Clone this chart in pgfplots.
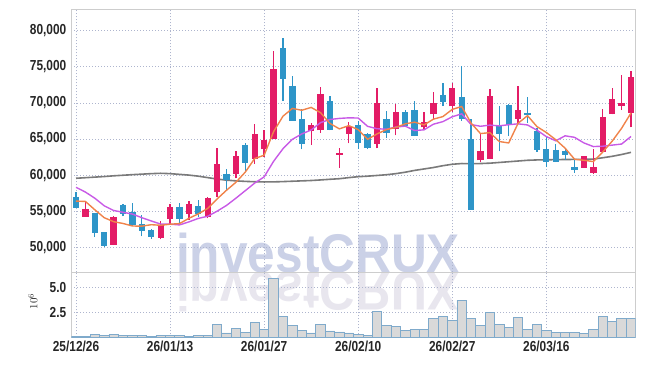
\documentclass[border=0pt]{standalone}
\usepackage{pgfplots}
\pgfplotsset{compat=1.18}
\usepackage{pgfplotstable}
\usepackage{fontspec}
\setmainfont{Liberation Sans}[FakeStretch=0.82]
\newfontfamily\wmfont{Liberation Sans}[FakeStretch=0.91]
\definecolor{upc}{HTML}{E31C66}
\definecolor{dnc}{HTML}{2E95C8}
\definecolor{ma5}{HTML}{F0834A}
\definecolor{ma10}{HTML}{C85AE6}
\definecolor{ma60}{HTML}{7A7A7A}
\definecolor{gridc}{HTML}{AEB5CE}
\definecolor{framec}{HTML}{CDCDCD}
\definecolor{tickc}{HTML}{262626}
\definecolor{volfill}{HTML}{D9D9D9}
\definecolor{voledge}{HTML}{7FAACB}
\definecolor{wmc}{HTML}{CBD1E7}
\definecolor{wmr}{HTML}{E8E6EE}

\pgfplotstableread{
x O H L C
0 57000 57600 55500 55500
2 54700 54800 51400 52000
3 52100 52150 50100 50200
5 55900 56000 54300 54600
6 54900 56100 52900 53100
7 53200 54500 51500 52300
8 52400 52550 51200 51450
11 55600 56200 53400 53900
13 55700 56600 54200 54600
16 60200 60900 57800 59300
18 64200 64500 60400 61700
22 77550 78950 70250 73300
23 72350 73700 67500 67500
24 67750 69200 63550 64350
27 70250 70900 66200 66250
30 66950 67500 63650 64500
31 65650 65800 63600 63700
33 67750 68900 65200 65800
35 68700 69000 66700 66850
36 69000 70250 65400 65400
39 71100 72700 69550 70150
41 70750 75150 67500 67800
42 65000 67750 55200 55200
45 66950 69550 63300 65700
46 69700 69800 65400 66900
48 68550 70750 67200 68350
49 66100 66500 63250 63500
50 63550 65250 61150 61850
51 63500 64300 61800 61850
52 63350 63550 62100 62800
53 61100 62150 60350 60700
}\dn

\pgfplotstableread{
x O H L C
1 54250 56300 54250 55300
4 50350 54300 50300 54200
9 51300 53600 51100 53100
10 53900 56000 53100 55600
12 54650 56400 53800 55950
14 54250 57000 54000 56800
15 57700 63800 56900 61600
17 60100 63350 59550 62650
19 62200 67050 61600 65700
20 63550 66300 62500 64900
21 65000 77200 65000 74700
25 66150 67200 64150 66950
26 66200 72150 65800 71200
28 62830 63700 61000 63080
29 65750 67300 64400 66850
32 64350 72000 63700 70000
34 66350 69900 65500 68700
37 66600 68700 66350 67350
38 68400 71500 67800 70050
40 69500 72700 68800 72000
43 62050 65700 61850 63350
44 62250 71900 62200 70950
47 67800 72400 67150 69000
54 61000 62600 61000 62600
55 60350 63650 60150 61100
56 63150 69100 63100 68000
57 68450 72000 68400 70500
58 69600 73900 69000 69950
59 68650 74450 66600 73550
}\up

\pgfplotstableread{
x ma5 ma10 ma60 v
0 56400 58310 59560 0.1
1 56350 57650 59640 0.1
2 55200 56800 59720 0.3
3 54100 55750 59800 0.2
4 53550 55100 59900 0.3
5 53300 54850 59980 0.2
6 52950 54600 60060 0.2
7 52930 54100 60130 0.2
8 53130 53650 60200 0.1
9 53050 53220 60250 0.2
10 53200 53200 60200 0.2
11 53280 53100 60100 0.2
12 54010 53520 60000 0.1
13 54630 54000 59850 0.2
14 55380 54300 59650 0.2
15 56700 55000 59450 1.3
16 57900 55800 59300 0.43
17 59000 56800 59200 0.9
18 60420 57850 59130 0.5
19 62300 58900 59080 1.5
20 62750 59750 59050 0.8
21 66000 61900 59060 5.9
22 68150 63650 59100 2.1
23 69230 64950 59150 1.2
24 68980 65700 59200 0.7
25 69370 66250 59250 0.43
26 68640 67270 59330 1.3
27 67150 67700 59420 0.63
28 66400 67850 59500 0.53
29 66850 67930 59650 0.43
30 66300 67900 59780 0.3
31 64950 66750 59850 0.2
32 65700 66420 59950 2.6
33 66300 66350 60050 1.2
34 66600 66650 60200 1.1
35 67100 66780 60400 0.7
36 67330 66170 60650 0.8
37 66950 66270 60850 0.8
38 67750 67050 61050 1.9
39 68100 67400 61300 2.1
40 69100 68080 61500 1.7
41 69500 68480 61600 3.7
42 67200 67000 61580 1.9
43 65750 66760 61600 1.2
44 65880 66920 61650 2.5
45 64650 66820 61750 1.3
46 64450 66980 61850 1.0
47 67180 67100 61950 2.0
48 68230 66940 62050 0.8
49 66720 66220 62100 1.3
50 65900 65330 62120 0.7
51 64900 64750 62140 0.5
52 63720 65440 62160 0.5
53 62200 65230 62170 0.5
54 62050 64450 62180 0.4
55 61870 63950 62220 0.8
56 63200 64000 62400 2.1
57 64700 64150 62600 1.6
58 66480 64300 62850 1.9
59 68600 65350 63150 1.9
}\lines

\pgfplotsset{
  chartbase/.style={
    scale only axis, width=564.4pt, anchor=south west,
    xmin=-0.5, xmax=59.5,
    xtick={0,10,20,30,40,50},
    grid=major,
    major grid style={draw=gridc, line width=0.7pt, dash pattern=on 1pt off 2pt},
    axis line style={draw=framec, line width=0.8pt},
    major tick length=0pt,
    tick style={draw=none},
    ticklabel style={font=\bfseries\fontsize{14.5}{15}\selectfont, text=tickc},
    yticklabel style={xshift=-1.5pt},
    /pgf/number format/assume math mode=true,
  }
}

\begin{document}
\begin{tikzpicture}
\useasboundingbox (0,0) rectangle (645pt,366pt);
\node[anchor=base west, inner sep=0pt, text=wmr, yscale=-1,
  font=\wmfont\bfseries\fontsize{54.5}{54.5}\selectfont] at (176pt,93.7pt) {investCRUX};
\node[anchor=base west, inner sep=0pt, text=wmc,
  font=\wmfont\bfseries\fontsize{54.5}{54.5}\selectfont] at (176pt,93.7pt) {investCRUX};

\begin{axis}[chartbase,
  at={(71.3pt,93.7pt)}, height=263pt,
  ymin=46540, ymax=82960,
  ytick={50000,55000,60000,65000,70000,75000,80000},
  xticklabels={},
  /pgf/number format/fixed,
  /pgf/number format/1000 sep={,},
  scaled y ticks=false,
]
\addplot[ma60, line width=1.6pt] table[x=x, y=ma60] {\lines};
\addplot[dnc, line width=1.3pt, quiver={u=0, v=\thisrow{H}-\thisrow{L}}] table[x=x, y=L] {\dn};
\addplot[upc, line width=1.3pt, quiver={u=0, v=\thisrow{H}-\thisrow{L}}] table[x=x, y=L] {\up};
\addplot[dnc, line width=6.3pt, quiver={u=0, v=\thisrow{C}-\thisrow{O}}] table[x=x, y=O] {\dn};
\addplot[upc, line width=6.3pt, quiver={u=0, v=\thisrow{C}-\thisrow{O}}] table[x=x, y=O] {\up};
\addplot[ma10, line width=1.4pt] table[x=x, y=ma10] {\lines};
\addplot[ma5, line width=1.4pt] table[x=x, y=ma5] {\lines};
\end{axis}

\begin{axis}[chartbase,
  at={(71.3pt,28.7pt)}, height=65pt,
  ymin=0, ymax=6.5,
  ytick={2.5,5}, yticklabels={2.5,5.0},
  xticklabels={25/12/26,26/01/13,26/01/27,26/02/10,26/02/27,26/03/16},
  ylabel={$10^6$},
  every axis y label/.style={at={(axis description cs:-0.068,0.55)}, rotate=90, anchor=center, font=\fontsize{11}{11}\selectfont, text=tickc},
]
\addplot[ybar, bar width=1, fill=volfill, draw=voledge, line width=0.8pt] table[x=x, y=v] {\lines};
\end{axis}
\end{tikzpicture}
\end{document}
